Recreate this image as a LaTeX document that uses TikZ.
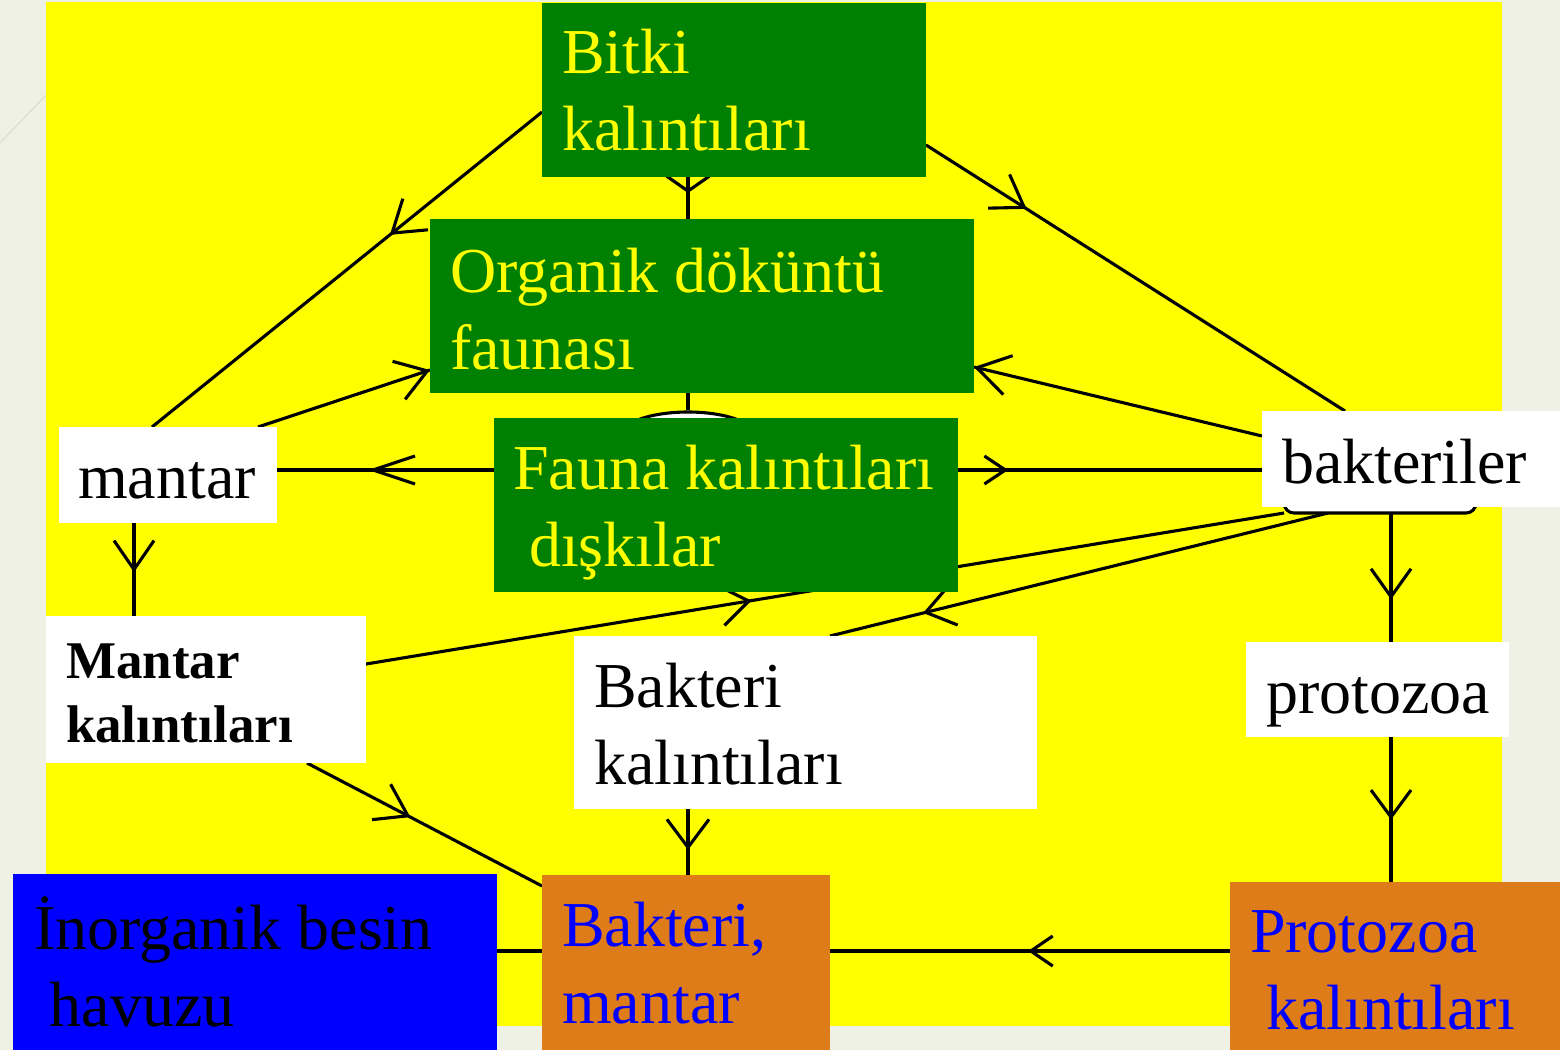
\documentclass[tikz,border=0pt]{standalone}
\usepackage{fontspec}
\setmainfont{Liberation Serif}
\usetikzlibrary{arrows.meta,decorations.markings,shapes.geometric}
\definecolor{slidebg}{HTML}{EEF1E3}
\definecolor{slideline}{HTML}{D9DDCC}
\definecolor{ybg}{HTML}{FFFF00}
\definecolor{gbox}{HTML}{008000}
\definecolor{bbox}{HTML}{0000FF}
\definecolor{obox}{HTML}{DE7C1A}
\pgfdeclarelayer{bg}
\pgfdeclarelayer{lines}
\pgfsetlayers{bg,lines,main}
\tikzset{
  box/.style={rectangle, inner sep=0pt, outer sep=0pt, anchor=north west},
  lbl/.style={anchor=north west, inner sep=0pt, outer sep=0pt, align=left, font=\fontsize{64}{77}\selectfont},
  conn/.style={draw=black, line width=3.1pt},
  mk/.style n args={3}{postaction={decorate}, decoration={markings,
      mark=at position #1 with {\arrow[line width=3.1pt]{Straight Barb[length=#2, width=#3]}}}},
}
\begin{document}
\begin{tikzpicture}[x=1pt,y=-1pt]
\useasboundingbox (0,0) rectangle (1560,1050);
\begin{pgfonlayer}{bg}
  \fill[slidebg] (0,0) rectangle (1560,1050);
  \draw[slideline, line width=1pt] (0,143) -- (46,95);
  \fill[ybg] (46,2) rectangle (1502,1026);
\end{pgfonlayer}

% hidden shapes partly covered by boxes
\node[ellipse, draw=black, fill=white, line width=3.1pt, minimum width=138pt, minimum height=50pt, inner sep=0pt] (faunacap) at (688,437) {};
\node[box, draw=black, fill=white, line width=3.1pt, rounded corners=10pt, minimum width=192pt, minimum height=93pt, anchor=south west] (bakcap) at (1284,513) {};

% boxes
\node[box, fill=gbox, minimum width=384pt, minimum height=174pt] (bitki) at (542,3) {};
\node[box, fill=gbox, minimum width=544pt, minimum height=174pt] (organik) at (430,219) {};
\node[box, fill=gbox, minimum width=464pt, minimum height=174pt] (fauna) at (494,418) {};
\node[box, fill=white, minimum width=218pt, minimum height=96pt] (mantar) at (59,427) {};
\node[box, fill=white, minimum width=298pt, minimum height=96pt] (bakteriler) at (1262,411) {};
\node[box, fill=white, minimum width=320pt, minimum height=147pt] (mkal) at (46,616) {};
\node[box, fill=white, minimum width=463pt, minimum height=173pt] (bkal) at (574,636) {};
\node[box, fill=white, minimum width=263pt, minimum height=95pt] (protozoa) at (1246,642) {};
\node[box, fill=bbox, minimum width=484pt, minimum height=176pt] (inorg) at (13,874) {};
\node[box, fill=obox, minimum width=288pt, minimum height=175pt] (bm) at (542,875) {};
\node[box, fill=obox, minimum width=330pt, minimum height=168pt] (pkal) at (1230,882) {};

% texts
\node[lbl, text=ybg] (bitki-t) at (562,23) {\rule{0pt}{50pt}Bitki\\kalıntıları};
\node[lbl, text=ybg] (organik-t) at (450,242) {\rule{0pt}{50pt}Organik döküntü\\faunası};
\node[lbl, text=ybg] (fauna-t) at (513,439) {\rule{0pt}{50pt}Fauna kalıntıları\\\hspace*{16pt}dışkılar};
\node[lbl, text=black] (mantar-t) at (78,448) {\rule{0pt}{50pt}mantar};
\node[lbl, text=black] (bakteriler-t) at (1282,433) {\rule{0pt}{50pt}bakteriler};
\node[lbl, text=black, font=\fontsize{53}{64}\selectfont\bfseries] (mkal-t) at (66,636) {\rule{0pt}{42pt}Mantar\\kalıntıları};
\node[lbl, text=black] (bkal-t) at (594,657) {\rule{0pt}{50pt}Bakteri\\kalıntıları};
\node[lbl, text=black] (protozoa-t) at (1266,663) {\rule{0pt}{50pt}protozoa};
\node[lbl, text=black] (inorg-t) at (34,897) {\rule{0pt}{50pt}İnorganik besin\\\hspace*{16pt}havuzu};
\node[lbl, text=bbox] (bm-t) at (562,896) {\rule{0pt}{50pt}Bakteri,\\mantar};
\node[lbl, text=bbox] (pkal-t) at (1250,902) {\rule{0pt}{50pt}Protozoa\\\hspace*{16pt}kalıntıları};

% helper coordinates for straight runs
\coordinate (v1) at (688,0);
\coordinate (v2) at (134,0);
\coordinate (v3) at (1391,0);
\coordinate (h1) at (0,470);
\coordinate (h2) at (0,951);

\begin{pgfonlayer}{lines}
  \draw[conn, mk={0.38}{15pt}{43pt}] (v1 |- bitki.south) -- (v1 |- organik.north);
  \draw[conn] (v1 |- organik.south) -- (faunacap.north);
  \draw[conn, mk={0.62}{28pt}{42pt}] (v1 |- bkal.south) -- (v1 |- bm.north);
  \draw[conn, mk={0.53}{29pt}{40pt}] (v2 |- mantar.south) -- (v2 |- mkal.north);
  \draw[conn, mk={0.67}{28pt}{40pt}] (v3 |- bakcap.south) -- (v3 |- protozoa.north);
  \draw[conn, mk={0.57}{27pt}{40pt}] (v3 |- protozoa.south) -- (v3 |- pkal.north);
  \draw[conn, mk={0.58}{42pt}{28pt}] (h1 -| fauna.west) -- (h1 -| mantar.east);
  \draw[conn, mk={0.165}{21pt}{28pt}] (h1 -| fauna.east) -- (h1 -| bakteriler.west);
  \draw[conn, mk={0.505}{22pt}{30pt}] (h2 -| pkal.west) -- (h2 -| bm.east);
  \draw[conn] (h2 -| bm.west) -- (h2 -| inorg.east);
  \draw[conn, mk={0.39}{30pt}{40pt}] ([yshift=-22pt]bitki.west) -- ([xshift=-16pt]mantar.north);
  \draw[conn, mk={1}{30pt}{40pt}] ([xshift=90pt]mantar.north) -- ([yshift=-64pt]organik.west);
  \draw[conn, mk={0.24}{30pt}{40pt}] ([yshift=-55pt]bitki.east) -- ([xshift=-66pt]bakteriler.north);
  \draw[conn, mk={1}{32pt}{40pt}] ([yshift=23pt]bakteriler.west) -- ([yshift=-61pt]organik.east);
  \draw[conn, mk={0.42}{28pt}{40pt}] ([yshift=25.5pt]mkal.east) -- (bakcap.south west);
  \draw[conn, mk={0.813}{28pt}{40pt}] ([xshift=44pt]bakcap.south west) -- ([xshift=24.5pt]bkal.north);
  \draw[conn, mk={0.44}{30pt}{40pt}] ([xshift=101pt]mkal.south) -- ([yshift=-11pt]bm.north west);
\end{pgfonlayer}
\end{tikzpicture}
\end{document}
